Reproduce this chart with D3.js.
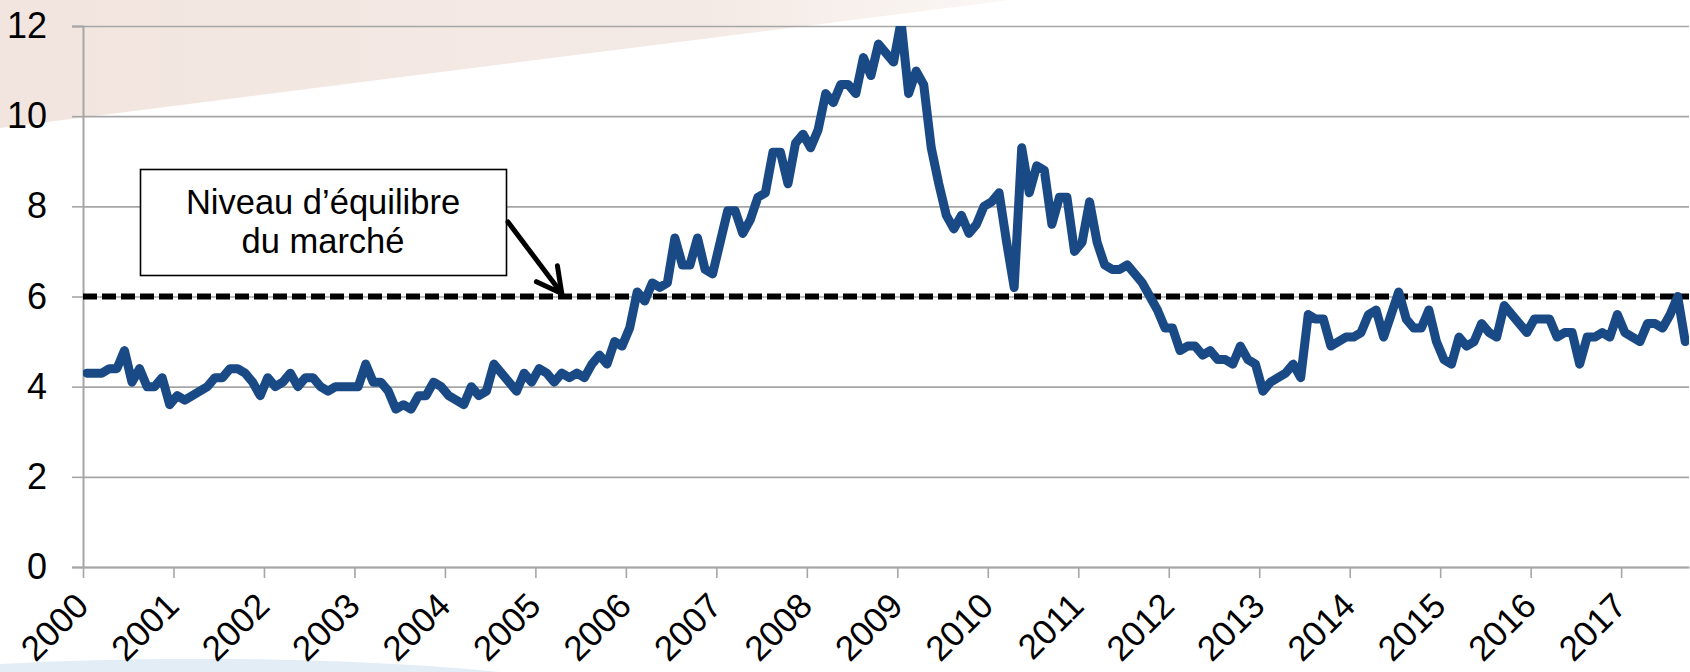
<!DOCTYPE html>
<html>
<head>
<meta charset="utf-8">
<script src="https://cdn.jsdelivr.net/npm/d3@7"></script>
<style>
  html, body { margin: 0; padding: 0; background: #fff; }
  svg { display: block; font-family: 'Liberation Sans', Arial, sans-serif; }
</style>
</head>
<body>
<div id="chart"></div>
<script>
// monthly values, one array per year (Jan..Dec)
const v2000 = [4.3, 4.3, 4.3, 4.4, 4.4, 4.8, 4.1, 4.4, 4.0, 4.0, 4.2, 3.6];
const v2001 = [3.8, 3.7, 3.8, 3.9, 4.0, 4.2, 4.2, 4.4, 4.4, 4.3, 4.1, 3.8];
const v2002 = [4.2, 4.0, 4.1, 4.3, 4.0, 4.2, 4.2, 4.0, 3.9, 4.0, 4.0, 4.0];
const v2003 = [4.0, 4.5, 4.1, 4.1, 3.9, 3.5, 3.6, 3.5, 3.8, 3.8, 4.1, 4.0];
const v2004 = [3.8, 3.7, 3.6, 4.0, 3.8, 3.9, 4.5, 4.3, 4.1, 3.9, 4.3, 4.1];
const v2005 = [4.4, 4.3, 4.1, 4.3, 4.2, 4.3, 4.2, 4.5, 4.7, 4.5, 5.0, 4.9];
const v2006 = [5.3, 6.1, 5.9, 6.3, 6.2, 6.3, 7.3, 6.7, 6.7, 7.3, 6.6, 6.5];
const v2007 = [7.2, 7.9, 7.9, 7.4, 7.7, 8.2, 8.3, 9.2, 9.2, 8.5, 9.4, 9.6];
const v2008 = [9.3, 9.7, 10.5, 10.3, 10.7, 10.7, 10.5, 11.3, 10.9, 11.6, 11.4, 11.2];
const v2009 = [12.1, 10.5, 11.0, 10.7, 9.3, 8.5, 7.8, 7.5, 7.8, 7.4, 7.6, 8.0];
const v2010 = [8.1, 8.3, 7.2, 6.2, 9.3, 8.3, 8.9, 8.8, 7.6, 8.2, 8.2, 7.0];
const v2011 = [7.2, 8.1, 7.2, 6.7, 6.6, 6.6, 6.7, 6.5, 6.3, 6.0, 5.7, 5.3];
const v2012 = [5.3, 4.8, 4.9, 4.9, 4.7, 4.8, 4.6, 4.6, 4.5, 4.9, 4.6, 4.5];
const v2013 = [3.9, 4.1, 4.2, 4.3, 4.5, 4.2, 5.6, 5.5, 5.5, 4.9, 5.0, 5.1];
const v2014 = [5.1, 5.2, 5.6, 5.7, 5.1, 5.6, 6.1, 5.5, 5.3, 5.3, 5.7, 5.0];
const v2015 = [4.6, 4.5, 5.1, 4.9, 5.0, 5.4, 5.2, 5.1, 5.8, 5.6, 5.4, 5.2];
const v2016 = [5.5, 5.5, 5.5, 5.1, 5.2, 5.2, 4.5, 5.1, 5.1, 5.2, 5.1, 5.6];
const v2017 = [5.2, 5.1, 5.0, 5.4, 5.4, 5.3, 5.6, 6.0, 5.0];

const years = ['2000', '2001', '2002', '2003', '2004', '2005', '2006', '2007', '2008',
               '2009', '2010', '2011', '2012', '2013', '2014', '2015', '2016', '2017'];
const yTicks = [0, 2, 4, 6, 8, 10, 12];
const equilibrium = 6;
const noteLines = ['Niveau d\u2019\u00e9quilibre', 'du march\u00e9'];

const values = [].concat(v2000, v2001, v2002, v2003, v2004, v2005, v2006, v2007, v2008,
                         v2009, v2010, v2011, v2012, v2013, v2014, v2015, v2016, v2017);

const W = 1690, H = 672;
const margin = { top: 26, right: 1, bottom: 105, left: 83 };
const width = W - margin.left - margin.right;
const height = H - margin.top - margin.bottom;

const svg = d3.select('#chart').append('svg')
  .attr('width', W)
  .attr('height', H);

// slide background decoration
const defs = svg.append('defs');
const pink = defs.append('linearGradient').attr('id', 'pink')
  .attr('x1', '0').attr('y1', '0').attr('x2', '1').attr('y2', '0');
pink.append('stop').attr('offset', '0%').attr('stop-color', '#f2e5df');
pink.append('stop').attr('offset', '70%').attr('stop-color', '#f4eae5');
pink.append('stop').attr('offset', '100%').attr('stop-color', '#fbf7f5');
svg.append('path')
  .attr('d', 'M0,0 L1010,0 L0,128 Z')
  .attr('fill', 'url(#pink)');
svg.append('path')
  .attr('d', 'M0,672 L0,664 C160,655 360,658 500,672 Z')
  .attr('fill', '#e2edf5');

defs.append('clipPath').attr('id', 'plot-clip')
  .append('rect').attr('x', 0).attr('y', 0).attr('width', width).attr('height', height);

const g = svg.append('g')
  .attr('transform', 'translate(' + margin.left + ',' + margin.top + ')');

const x = d3.scaleLinear().domain([0, values.length]).range([0, width]);
const y = d3.scaleLinear().domain([0, 12]).range([height, 0]);

// gridlines
g.append('g')
  .attr('class', 'grid')
  .call(d3.axisLeft(y).tickValues(yTicks).tickSize(-width).tickFormat(''))
  .call(s => s.select('.domain').remove())
  .selectAll('line')
  .attr('stroke', '#a6a6a6')
  .attr('stroke-width', 1.6);

// y axis
g.append('g')
  .call(d3.axisLeft(y).tickValues(yTicks).tickSize(11).tickPadding(25))
  .call(s => s.select('.domain').attr('stroke', '#a6a6a6').attr('stroke-width', 2))
  .call(s => s.selectAll('line').attr('stroke', '#a6a6a6').attr('stroke-width', 1.6))
  .selectAll('text')
  .style('font-size', '36px')
  .attr('fill', '#000');

// x axis, a tick every 12 months
g.append('g')
  .attr('transform', 'translate(0,' + height + ')')
  .call(d3.axisBottom(x).tickValues(d3.range(0, values.length, 12))
    .tickSize(11).tickSizeOuter(0).tickFormat(d => years[d / 12]))
  .call(s => s.select('.domain').attr('stroke', '#a6a6a6').attr('stroke-width', 2))
  .call(s => s.selectAll('line').attr('stroke', '#a6a6a6').attr('stroke-width', 1.6))
  .selectAll('text')
  .style('font-size', '35px')
  .attr('fill', '#000')
  .attr('x', 0).attr('y', 0).attr('dy', 0)
  .attr('text-anchor', 'end')
  .attr('transform', 'translate(7,41) rotate(-45)');

// equilibrium level
g.append('line')
  .attr('x1', 0).attr('x2', width)
  .attr('y1', y(equilibrium)).attr('y2', y(equilibrium))
  .attr('stroke', '#000')
  .attr('stroke-width', 6)
  .attr('stroke-dasharray', '14,5');

// series
const line = d3.line()
  .x((d, i) => x(i + 0.5))
  .y(d => y(d));

g.append('path')
  .datum(values)
  .attr('clip-path', 'url(#plot-clip)')
  .attr('fill', 'none')
  .attr('stroke', '#1a4a86')
  .attr('stroke-width', 9)
  .attr('stroke-linejoin', 'round')
  .attr('stroke-linecap', 'round')
  .attr('d', line);

// annotation box + arrow
const note = svg.append('g');
note.append('rect')
  .attr('x', 140.5).attr('y', 169.5)
  .attr('width', 366).attr('height', 106)
  .attr('fill', '#fff')
  .attr('stroke', '#000')
  .attr('stroke-width', 1.6);

note.selectAll('text.note')
  .data(noteLines)
  .enter().append('text')
  .attr('class', 'note')
  .attr('x', 323)
  .attr('y', (d, i) => 214 + i * 39)
  .attr('text-anchor', 'middle')
  .style('font-size', '34.5px')
  .attr('fill', '#000')
  .text(d => d);

const tipX = margin.left + x(63.5), tipY = margin.top + y(equilibrium) - 3;
const fromX = 508, fromY = 222;
const ang = Math.atan2(fromY - tipY, fromX - tipX);
const headLen = 28, headAng = 28 * Math.PI / 180;
note.append('path')
  .attr('d', 'M' + fromX + ',' + fromY + ' L' + tipX + ',' + tipY +
    ' M' + (tipX + headLen * Math.cos(ang - headAng)) + ',' + (tipY + headLen * Math.sin(ang - headAng)) +
    ' L' + tipX + ',' + tipY +
    ' L' + (tipX + headLen * Math.cos(ang + headAng)) + ',' + (tipY + headLen * Math.sin(ang + headAng)))
  .attr('fill', 'none')
  .attr('stroke', '#000')
  .attr('stroke-width', 5)
  .attr('stroke-linecap', 'round')
  .attr('stroke-linejoin', 'round');
</script>
</body>
</html>
